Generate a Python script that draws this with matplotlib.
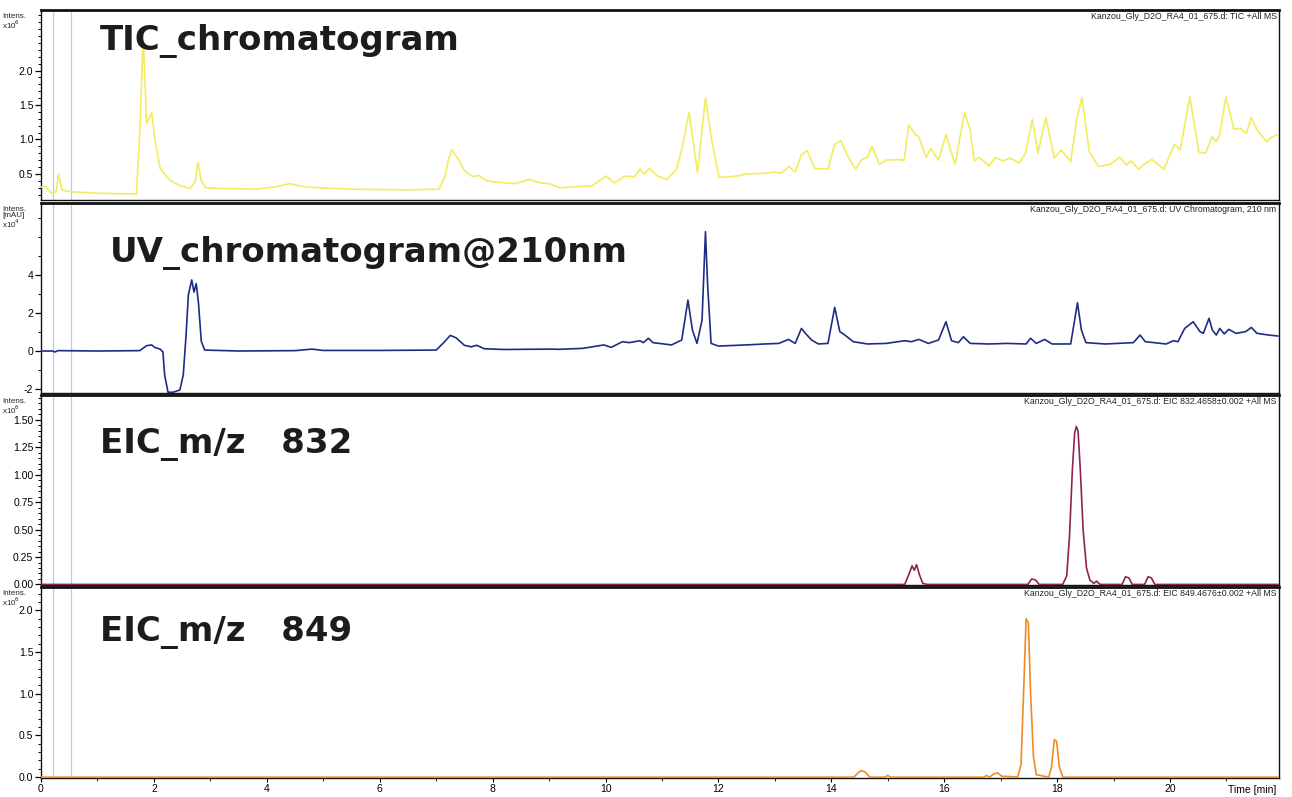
import numpy as np
import matplotlib.pyplot as plt
from matplotlib.ticker import MultipleLocator

# (time [min], intensity)
tic = [(0.0, 0.31), (0.07, 0.32), (0.19, 0.22), (0.27, 0.24), (0.31, 0.50), (0.37, 0.27),
       (0.45, 0.25), (0.58, 0.24), (1.04, 0.22), (1.69, 0.21), (1.75, 1.09), (1.81, 2.51),
       (1.87, 1.23), (1.96, 1.39), (2.02, 0.99), (2.11, 0.58), (2.28, 0.41), (2.46, 0.33),
       (2.64, 0.29), (2.73, 0.39), (2.78, 0.67), (2.84, 0.40), (2.92, 0.30), (3.2, 0.29),
       (3.8, 0.28), (4.2, 0.32), (4.4, 0.36), (4.7, 0.31), (5.5, 0.28), (6.5, 0.27),
       (7.05, 0.28), (7.15, 0.45), (7.22, 0.72), (7.28, 0.85), (7.4, 0.70), (7.5, 0.55),
       (7.65, 0.46), (7.75, 0.48), (7.9, 0.40), (8.1, 0.38), (8.4, 0.36), (8.65, 0.42),
       (8.85, 0.37), (9.0, 0.36), (9.19, 0.30), (9.76, 0.33), (10.01, 0.47), (10.16, 0.37),
       (10.34, 0.47), (10.51, 0.46), (10.61, 0.57), (10.69, 0.50), (10.77, 0.58), (10.92, 0.47),
       (11.09, 0.42), (11.25, 0.56), (11.35, 0.85), (11.48, 1.39), (11.63, 0.52), (11.77, 1.60),
       (11.87, 1.04), (12.01, 0.45), (12.33, 0.47), (12.49, 0.50), (12.82, 0.51), (12.99, 0.53),
       (13.11, 0.51), (13.25, 0.61), (13.36, 0.53), (13.47, 0.78), (13.57, 0.84), (13.71, 0.58),
       (13.94, 0.57), (14.06, 0.93), (14.17, 0.98), (14.29, 0.76), (14.43, 0.57), (14.54, 0.71),
       (14.64, 0.74), (14.72, 0.90), (14.85, 0.64), (14.97, 0.70), (15.18, 0.71), (15.29, 0.70),
       (15.37, 1.21), (15.49, 1.07), (15.55, 1.04), (15.68, 0.74), (15.76, 0.87), (15.90, 0.70),
       (16.03, 1.07), (16.19, 0.64), (16.36, 1.39), (16.46, 1.14), (16.53, 0.69), (16.62, 0.74),
       (16.79, 0.62), (16.91, 0.74), (17.04, 0.69), (17.16, 0.73), (17.33, 0.66), (17.44, 0.80),
       (17.56, 1.29), (17.66, 0.80), (17.80, 1.32), (17.95, 0.73), (18.07, 0.85), (18.24, 0.68),
       (18.35, 1.31), (18.44, 1.61), (18.57, 0.82), (18.73, 0.61), (18.94, 0.64), (19.11, 0.74),
       (19.23, 0.63), (19.31, 0.69), (19.44, 0.57), (19.56, 0.65), (19.68, 0.71), (19.89, 0.57),
       (20.08, 0.93), (20.18, 0.85), (20.35, 1.62), (20.51, 0.82), (20.63, 0.80), (20.74, 1.04),
       (20.82, 0.97), (20.88, 1.07), (20.99, 1.62), (21.13, 1.15), (21.25, 1.16), (21.35, 1.09),
       (21.44, 1.32), (21.54, 1.14), (21.71, 0.97), (21.79, 1.03), (21.91, 1.07)]

uv = [(0.0, 0.0), (0.2, 0.0), (0.25, -0.05), (0.3, 0.02), (1.0, 0.0), (1.75, 0.02),
      (1.87, 0.28), (1.96, 0.32), (2.02, 0.18), (2.11, 0.10), (2.16, -0.05), (2.19, -1.26),
      (2.25, -2.17), (2.34, -2.17), (2.46, -2.05), (2.52, -1.26), (2.57, 0.84), (2.61, 2.95),
      (2.67, 3.74), (2.71, 3.1), (2.75, 3.55), (2.79, 2.5), (2.84, 0.5), (2.9, 0.05),
      (3.5, 0.0), (4.5, 0.02), (4.8, 0.1), (5.0, 0.03), (6.0, 0.03), (7.0, 0.05),
      (7.12, 0.4), (7.25, 0.82), (7.35, 0.7), (7.5, 0.3), (7.62, 0.22), (7.72, 0.3),
      (7.85, 0.12), (8.2, 0.08), (9.0, 0.1), (9.19, 0.09), (9.6, 0.14), (9.97, 0.32),
      (10.1, 0.19), (10.3, 0.49), (10.42, 0.44), (10.61, 0.54), (10.67, 0.44), (10.76, 0.67),
      (10.84, 0.44), (11.17, 0.32), (11.35, 0.58), (11.46, 2.68), (11.54, 1.1), (11.62, 0.40),
      (11.71, 1.63), (11.77, 6.28), (11.81, 3.39), (11.87, 0.40), (12.0, 0.26), (12.49, 0.32),
      (12.82, 0.37), (13.07, 0.40), (13.24, 0.61), (13.36, 0.40), (13.47, 1.19), (13.55, 0.9),
      (13.65, 0.58), (13.77, 0.37), (13.94, 0.40), (14.06, 2.30), (14.15, 1.02), (14.24, 0.84),
      (14.39, 0.49), (14.64, 0.37), (14.97, 0.40), (15.30, 0.54), (15.42, 0.49), (15.55, 0.61),
      (15.72, 0.40), (15.90, 0.58), (16.03, 1.54), (16.13, 0.54), (16.25, 0.44), (16.34, 0.75),
      (16.46, 0.40), (16.79, 0.37), (17.12, 0.40), (17.45, 0.37), (17.53, 0.67), (17.63, 0.40),
      (17.78, 0.61), (17.91, 0.37), (18.24, 0.37), (18.36, 2.54), (18.43, 1.1), (18.51, 0.44),
      (18.85, 0.37), (19.35, 0.44), (19.47, 0.84), (19.56, 0.49), (19.93, 0.37), (20.06, 0.54),
      (20.14, 0.49), (20.26, 1.19), (20.41, 1.54), (20.53, 1.02), (20.59, 0.93), (20.69, 1.72),
      (20.75, 1.1), (20.82, 0.84), (20.88, 1.19), (20.96, 0.9), (21.04, 1.14), (21.17, 0.93),
      (21.34, 1.02), (21.44, 1.24), (21.54, 0.93), (21.75, 0.84), (21.91, 0.79)]

eic832 = [(0.0, 0.0), (15.3, 0.0), (15.38, 0.10), (15.43, 0.17), (15.47, 0.13), (15.51, 0.18),
          (15.56, 0.09), (15.62, 0.01), (15.7, 0.0), (17.48, 0.0), (17.55, 0.05), (17.62, 0.04),
          (17.68, 0.0), (18.1, 0.0), (18.17, 0.08), (18.22, 0.45), (18.27, 1.05), (18.31, 1.38),
          (18.34, 1.44), (18.37, 1.40), (18.41, 1.05), (18.46, 0.50), (18.52, 0.15), (18.58, 0.04),
          (18.65, 0.01), (18.7, 0.03), (18.76, 0.0), (19.15, 0.0), (19.21, 0.07), (19.27, 0.06),
          (19.33, 0.0), (19.55, 0.0), (19.61, 0.07), (19.67, 0.06), (19.73, 0.0), (21.91, 0.0)]

eic849 = [(0.0, 0.0), (14.4, 0.0), (14.47, 0.05), (14.53, 0.08), (14.6, 0.06), (14.68, 0.0),
          (14.95, 0.0), (15.0, 0.02), (15.05, 0.0), (16.7, 0.0), (16.75, 0.02), (16.8, 0.0),
          (16.88, 0.04), (16.95, 0.05), (17.02, 0.01), (17.1, 0.01), (17.3, 0.0), (17.36, 0.15),
          (17.41, 1.1), (17.45, 1.9), (17.49, 1.85), (17.53, 1.0), (17.58, 0.25), (17.63, 0.03),
          (17.85, 0.0), (17.9, 0.12), (17.95, 0.45), (17.99, 0.43), (18.04, 0.12), (18.1, 0.0),
          (21.91, 0.0)]

names = ['TIC_chromatogram', 'UV_chromatogram@210nm', 'EIC_m/z   832', 'EIC_m/z   849']
headers = ['Kanzou_Gly_D2O_RA4_01_675.d: TIC +All MS',
           'Kanzou_Gly_D2O_RA4_01_675.d: UV Chromatogram, 210 nm',
           'Kanzou_Gly_D2O_RA4_01_675.d: EIC 832.4658\u00b10.002 +All MS',
           'Kanzou_Gly_D2O_RA4_01_675.d: EIC 849.4676\u00b10.002 +All MS']
units = ['Intens.\nx10$^6$', 'Intens.\n[mAU]\nx10$^4$', 'Intens.\nx10$^6$', 'Intens.\nx10$^6$']
colors = ['#f2ec5e', '#1f2c84', '#8e2356', '#f08a24']
markers_t = [0.22, 0.53]

W, H = 1292, 797
fig = plt.figure(figsize=(W / 100, H / 100), dpi=100)
plt.rcParams['font.family'] = ['Liberation Sans', 'DejaVu Sans']

# pixel rows of each panel: (top, bottom)
rows = [(10, 200), (203, 393), (395, 585), (587, 778)]
ylims = [(0.123, 2.877), (-2.21, 7.79), (-0.005, 1.727), (-0.01, 2.28)]
yminor = [0.1, 1, 0.05, 0.1]
yticks = [[0.5, 1.0, 1.5, 2.0], [-2, 0, 2, 4],
          [0.0, 0.25, 0.5, 0.75, 1.0, 1.25, 1.5], [0.0, 0.5, 1.0, 1.5, 2.0]]
yfmt = ['{:.1f}', '{:.0f}', '{:.2f}', '{:.1f}']
label_base = [50, 262, 453, 641]
label_x = [100, 110, 100, 100]

for i, data in enumerate([tic, uv, eic832, eic849]):
    top, bot = rows[i]
    ax = fig.add_axes([41 / W, 1 - bot / H, (1279 - 41) / W, (bot - top) / H])
    t, v = np.array(data).T
    for m in markers_t:
        ax.axvline(m, color='#a9d2f2', lw=0.9, zorder=1)
    ax.plot(t, v, color=colors[i], lw=1.2, zorder=3)
    ax.set_xlim(0, 21.93)
    ax.set_ylim(*ylims[i])
    ax.set_yticks(yticks[i])
    ax.set_yticklabels([yfmt[i].format(y) for y in yticks[i]])
    ax.yaxis.set_minor_locator(MultipleLocator(yminor[i]))
    ax.tick_params(axis='y', which='major', direction='out', length=4, width=0.9,
                   labelsize=7.5, pad=1.5)
    ax.tick_params(axis='y', which='minor', direction='out', length=2.5, width=0.7)
    for s in ax.spines.values():
        s.set_linewidth(1.0)
        s.set_color('#111111')
    ax.spines['top'].set_linewidth(2.0)
    if i < 3:
        ax.set_xticks([])
    else:
        ax.set_xticks(range(0, 21, 2))
        ax.xaxis.set_minor_locator(MultipleLocator(1))
        ax.tick_params(axis='x', which='major', direction='out', length=3,
                       labelsize=7.5, pad=1.5)
        ax.tick_params(axis='x', which='minor', direction='out', length=2)
    ax.text(0.998, 0.992, headers[i], transform=ax.transAxes, ha='right', va='top',
            fontsize=6.3, color='#222222')
    fig.text(label_x[i] / W, 1 - label_base[i] / H, names[i], fontsize=24.5,
             fontweight='bold', family='DejaVu Sans', color='#1c1c1c', va='baseline')
    fig.text(2 / W, 1 - (top + 3) / H, units[i], fontsize=5.8, va='top', ha='left',
             linespacing=0.85, color='#222222')

fig.text(1276 / W, 1 - 793 / H, 'Time [min]', ha='right', va='baseline', fontsize=7.5)

fig.savefig('out.png', dpi=100)
